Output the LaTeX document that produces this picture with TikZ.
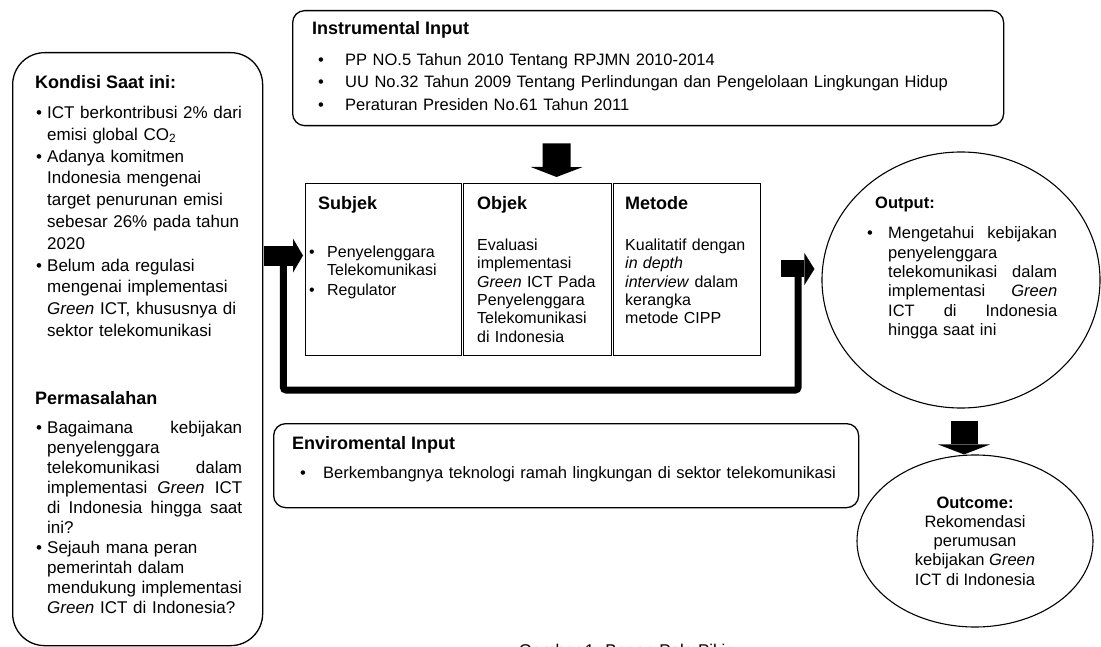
\documentclass[tikz,border=0pt]{standalone}
\usepackage{fontspec}
\setmainfont{Liberation Sans}
\usetikzlibrary{arrows.meta,shapes.geometric,calc}

\setlength\parindent{0pt}
\newcommand\bitem[2]{\par\hangindent=#1\hangafter=1\noindent\makebox[#1][l]{\textbullet}{\let\\\newline #2}\par}
\newcommand\fs[2]{\fontsize{#1}{#2}\selectfont}

\tikzset{
  panel/.style={draw, line width=1.3pt, rounded corners=#1, anchor=north west, inner sep=0pt},
  cell/.style={draw, line width=1.1pt, anchor=north west, inner sep=0pt},
  blob/.style={draw, ellipse, line width=1.1pt, inner sep=0pt},
  txt/.style={anchor=north west, inner sep=0pt, align=left},
  head/.style={txt, font=\fs{18}{22}\bfseries},
  fat/.style n args={2}{line width=#1, -{Triangle[length=10pt, width=#2, line width=0pt]}},
  feedback/.style={line width=7pt, rounded corners=3pt},
}

\begin{document}
\begin{tikzpicture}[x=1pt,y=-1pt]
  \useasboundingbox (0,0) rectangle (1101,647);
  \clip (0,0) rectangle (1101,647);

  % Kondisi / Permasalahan panel
  \node[panel=32pt, minimum width=250pt, minimum height=593pt] (kondisi) at (12,52) {};
  \node[head] (kondisihead) at (35,75) {Kondisi Saat ini:};
  \node[txt, text width=206pt, font=\fs{17}{21.8}] (kondisilist) at (36,96.5) {%
    \bitem{11pt}{ICT berkontribusi 2\% dari\\ emisi global CO\textsubscript{2}}
    \bitem{11pt}{Adanya komitmen\\ Indonesia mengenai\\ target penurunan emisi\\ sebesar 26\% pada tahun\\ 2020}
    \bitem{11pt}{Belum ada regulasi\\ mengenai implementasi\\ \textit{Green} ICT, khususnya di\\ sektor telekomunikasi}};
  \node[head] (masalahhead) at (35,391) {Permasalahan};
  \node[txt, text width=206pt, font=\fs{17}{20}] (masalahlist) at (36,413.5) {%
    \bitem{11pt}{Bagaimana \hfill kebijakan\\ penyelenggara\\ telekomunikasi \hfill dalam\\ implementasi \hfill \textit{Green} \hfill ICT\\ di \hfill Indonesia \hfill hingga \hfill saat\\ ini?}
    \bitem{11pt}{Sejauh mana peran\\ pemerintah dalam\\ mendukung implementasi\\ \textit{Green} ICT di Indonesia?}};

  % Instrumental input
  \node[panel=12pt, minimum width=711pt, minimum height=115pt] (instr) at (292,10) {};
  \node[head] (instrhead) at (312,21) {Instrumental Input};
  \node[txt, text width=680pt, font=\fs{16.5}{22.5}] (instrlist) at (318,42.5) {%
    \bitem{27pt}{PP NO.5 Tahun 2010 Tentang RPJMN 2010-2014}
    \bitem{27pt}{UU No.32 Tahun 2009 Tentang Perlindungan dan Pengelolaan Lingkungan Hidup}
    \bitem{27pt}{Peraturan Presiden No.61 Tahun 2011}};

  % Subjek / Objek / Metode
  \node[cell, minimum width=156pt, minimum height=172pt] (subjek) at (305,183) {};
  \node[cell, minimum width=148pt, minimum height=172pt] (objek) at (463,183) {};
  \node[cell, minimum width=147pt, minimum height=172pt] (metode) at (613,183) {};
  \node[head] (subjekhead) at (318,196) {Subjek};
  \node[head] (objekhead) at (477,196) {Objek};
  \node[head] (metodehead) at (625,196) {Metode};
  \node[txt, text width=148pt, font=\fs{16}{18.4}] (subjektxt) at (309,238.5) {%
    \bitem{18pt}{Penyelenggara\\ Telekomunikasi}\vspace{1.5pt}
    \bitem{18pt}{Regulator}};
  \node[txt, text width=132pt, font=\fs{16}{18.4}] (objektxt) at (477,238.5)
    {Evaluasi\\ implementasi\\ \textit{Green} ICT Pada\\ Penyelenggara\\ Telekomunikasi\\ di Indonesia};
  \node[txt, text width=133pt, font=\fs{16}{18.4}] (metodetxt) at (625,238.5)
    {Kualitatif dengan\\ \textit{in depth}\\ \textit{interview} dalam\\ kerangka\\ metode CIPP};

  % Enviromental input
  \node[panel=12pt, minimum width=585pt, minimum height=84pt] (env) at (273,423) {};
  \node[head] (envhead) at (292,436) {Enviromental Input};
  \node[txt, text width=555pt, font=\fs{16.5}{20}] (envlist) at (300,458.5) {%
    \bitem{23pt}{Berkembangnya teknologi ramah lingkungan di sektor telekomunikasi}};

  % Output and outcome
  \node[blob, minimum width=278pt, minimum height=256pt] (output) at (961,280) {};
  \node[txt, font=\fs{16.5}{20}\bfseries] (outputhead) at (875,196.5) {Output:};
  \node[txt, text width=190pt, font=\fs{16.5}{19.3}] (outputlist) at (867,219.5) {%
    \bitem{21pt}{Mengetahui \hfill kebijakan\\ penyelenggara\\ telekomunikasi \hfill dalam\\ implementasi \hfill \textit{Green}\\ ICT \hfill di \hfill Indonesia\\ hingga saat ini}};
  \node[blob, minimum width=236pt, minimum height=172pt] (outcome) at (975,541) {};
  \node[anchor=north, inner sep=0pt, align=center, font=\fs{16.5}{19.2}] (outcometxt) at (975,496.5)
    {\textbf{Outcome:}\\ Rekomendasi\\ perumusan\\ kebijakan \textit{Green}\\ ICT di Indonesia};

  \node[anchor=base, inner sep=0pt, font=\fs{17}{20}] (caption) at (625,656) {Gambar 1. Bagan Pola Pikir};

  % block arrows
  \coordinate (intip) at ([xshift=-2pt,yshift=14pt]subjek.west);
  \coordinate (outtip) at ([xshift=-7pt,yshift=11pt]output.west);
  \draw[fat={28pt}{52pt}] ([xshift=-91.5pt,yshift=-17pt]instr.south) -- ([xshift=19pt,yshift=6pt]objek.north);
  \draw[fat={20pt}{34pt}] ($(kondisi.east |- intip)+(1,0)$) -- (intip);
  \draw[fat={17pt}{32pt}] ($(metode.east |- outtip)+(20,0)$) -- (outtip);
  \draw[fat={27pt}{52pt}] ([xshift=3pt,yshift=-12pt]output.south) -- ([xshift=-11pt]outcome.north);

  % feedback loop
  \coordinate (loopstart) at ($(kondisi.east |- intip)+(20,3)$);
  \coordinate (loopend) at ($(metode.east |- outtip)+(37,3)$);
  \draw[feedback] (loopstart) |- ([yshift=-34pt]subjek.south) -| (loopend);
\end{tikzpicture}
\end{document}
